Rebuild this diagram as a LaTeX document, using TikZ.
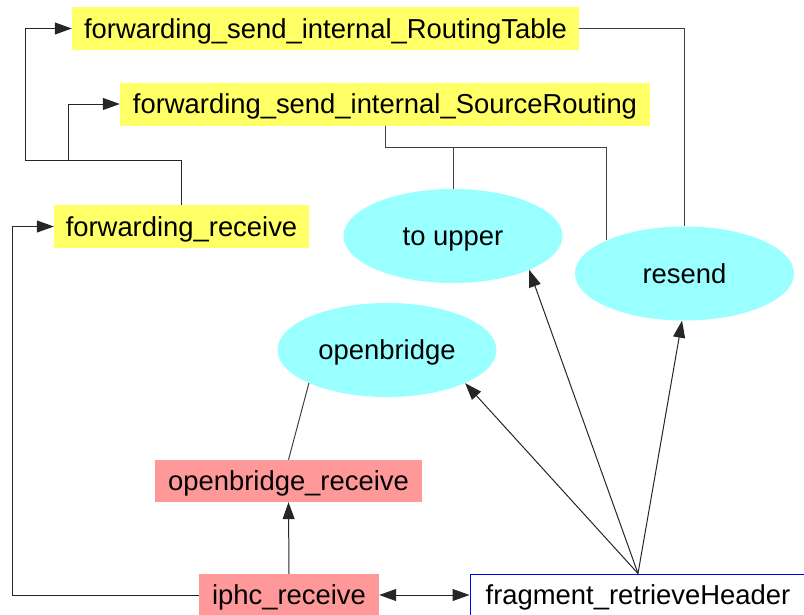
\documentclass[tikz,border=0pt]{standalone}
\usepackage{fontspec}
\setmainfont{Liberation Sans}
\usepackage{xcolor}
\usetikzlibrary{shapes.geometric,arrows.meta,calc}

\definecolor{fwdyellow}{RGB}{255,255,102}
\definecolor{rxpink}{RGB}{255,153,153}
\definecolor{evcyan}{RGB}{153,255,255}

\begin{document}
\begin{tikzpicture}[
    x=1pt, y=-1pt,
    >={Triangle[length=17pt,width=12pt]},
    label font/.style={font=\fontsize{27.4}{32}\selectfont, text height=22pt, text depth=3pt},
    fwdbox/.style={rectangle, fill=fwdyellow, inner sep=0pt, minimum height=43pt, label font},
    rxbox/.style={rectangle, fill=rxpink, inner sep=0pt, minimum height=42pt, label font},
    hdrbox/.style={rectangle, draw=blue, line width=1pt, fill=white, inner sep=0pt, minimum height=42pt, label font},
    event/.style={ellipse, fill=evcyan, minimum width=219pt, minimum height=94pt, inner sep=0pt, label font},
    arrow/.style={->, line width=1pt, black!85},
    link/.style={line width=1pt, black!75}
]
\useasboundingbox (0,0) rectangle (804,614);
\clip (0,0) rectangle (804,614);

% Forwarding functions
\node[fwdbox, minimum width=507pt] (sendRT) at (325.5,28.5) {forwarding\_send\_internal\_RoutingTable};
\node[fwdbox, minimum width=530pt] (sendSR) at (385,104) {forwarding\_send\_internal\_SourceRouting};
\node[fwdbox, minimum width=255pt] (fwdRx) at (181.5,226.5) {forwarding\_receive};

% Events
\node[event] (toUpper) at (453,236) {to upper};
\node[event] (resend) at (684.5,273.5) {resend};
\node[event] (openbridge) at (387,350) {openbridge};

% Receive handlers
\node[rxbox, minimum width=267pt] (obRx) at (288.5,481) {openbridge\_receive};
\node[rxbox, minimum width=180pt] (iphcRx) at (289,595) {iphc\_receive};
\node[hdrbox, minimum width=336pt] (fragHdr) at (638,595) {fragment\_retrieveHeader};

% Bends
\coordinate (fwdLeft) at (25,160);
\coordinate (fwdMid) at (68,160);
\coordinate (srBend) at (385,147);
\coordinate (iphcLeft) at (12,595);

% Connectors
\draw[arrow] (fwdRx.north) |- (fwdLeft) |- (sendRT.west);
\draw[arrow] (fwdMid) |- (sendSR.west);
\draw[link] (sendRT.east) -| (resend.north);
\draw[link] (sendSR.south) -- (srBend) -| (resend.north west);
\draw[link] (toUpper.north) -- (toUpper.north |- srBend);
\draw[link] (openbridge.203) -- (obRx.north);
\draw[arrow] (iphcRx.north) -- (obRx.south);
\draw[arrow, <->] (iphcRx.east) -- (fragHdr.west);
\draw[arrow] (iphcRx.west) -- (iphcLeft) |- (fwdRx.west);
\draw[arrow] (fragHdr.north) -- (openbridge.337);
\draw[arrow] (fragHdr.north) -- (toUpper.336);
\draw[arrow] (fragHdr.north) -- (resend.267);

\end{tikzpicture}
\end{document}
